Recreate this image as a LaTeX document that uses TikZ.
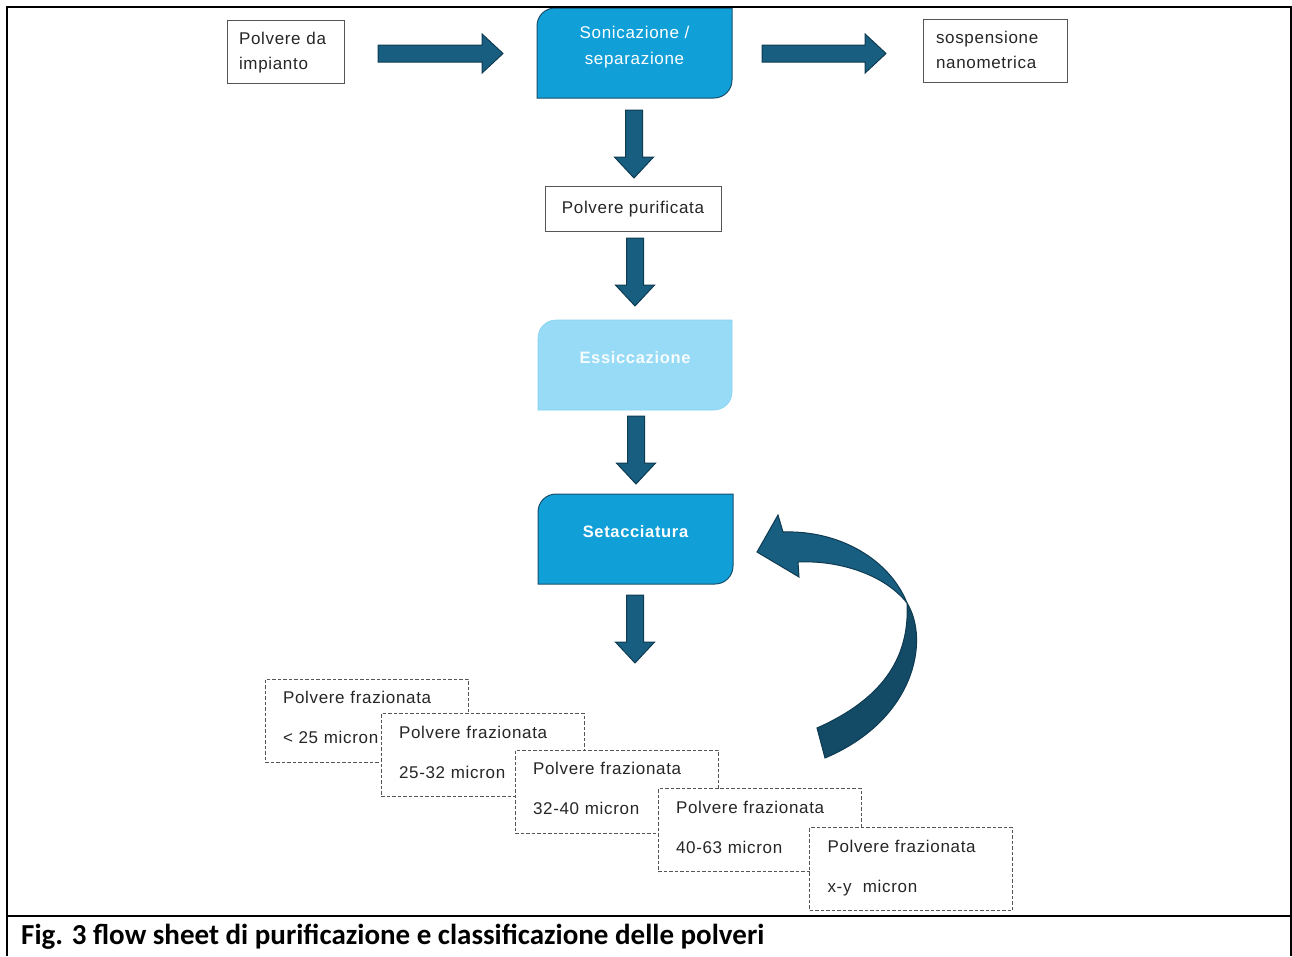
\documentclass[tikz,border=0pt]{standalone}
\usepackage{fontspec}
\setmainfont{Liberation Sans}
\newfontfamily\aptos[LetterSpace=4]{Liberation Sans}
\newfontfamily\capfont{Carlito}
\usetikzlibrary{shapes.arrows,calc,backgrounds}
\definecolor{procblue}{HTML}{119FD8}
\definecolor{procedge}{HTML}{17506E}
\definecolor{lightblue}{HTML}{98DBF7}
\definecolor{arrfill}{HTML}{185E80}
\definecolor{arredge}{HTML}{0F3B52}
\definecolor{arrdark}{HTML}{134A66}
\definecolor{boxedge}{HTML}{555555}
\definecolor{txtcol}{HTML}{262626}
\newcommand\diagshape[2]{%
  \begin{scope}[on background layer]
  \path[#2] (#1.south west)
    -- ($(#1.north west)+(0,18)$)
    .. controls ($(#1.north west)+(0,8)$) and ($(#1.north west)+(8,0)$) .. ($(#1.north west)+(18,0)$)
    -- (#1.north east)
    -- ($(#1.south east)+(0,-18)$)
    .. controls ($(#1.south east)+(0,-8)$) and ($(#1.south east)+(-8,0)$) .. ($(#1.south east)+(-18,0)$)
    -- cycle;
  \end{scope}}
\begin{document}
\begin{tikzpicture}[x=1pt,y=-1pt,
  txt/.style={font=\aptos\fontsize{17}{25}\selectfont, text=txtcol},
  plainbox/.style={txt, draw=boxedge, line width=0.9pt, fill=white, align=left, outer sep=0pt,
     inner xsep=12pt, text height=12pt, text depth=27pt, minimum height=63pt},
  purebox/.style={txt, draw=boxedge, line width=0.9pt, fill=white, align=center, outer sep=0pt,
     minimum width=176pt, minimum height=45pt, text height=12pt, text depth=2pt},
  fbox/.style={font=\aptos\fontsize{17}{40}\selectfont, text=txtcol, draw=boxedge, dash pattern=on 3.5pt off 2pt,
     line width=0.9pt, fill=white, outer sep=0pt, minimum width=203pt, minimum height=83pt,
     inner xsep=18pt, text width=167pt, align=left, text height=12pt, text depth=46pt},
  proc/.style={font=\aptos\fontsize{17}{26}\selectfont, text=white, align=center, outer sep=0pt,
     minimum height=90pt, inner sep=0pt},
  barrow/.style={single arrow, draw=arredge, fill=arrfill, line width=1pt, inner sep=8pt,
     single arrow head extend=11pt, single arrow tip angle=86, minimum width=38pt, outer sep=0pt, anchor=tail},
]
\useasboundingbox (0,0) rectangle (1292,956);
% frame
\draw[line width=2pt] (7,956) -- (7,7) -- (1291,7) -- (1291,956);
\draw[line width=2pt] (7,916) -- (1291,916);
% top row
\node[plainbox, text width=93pt] (pi) at (285.5,51.5) {Polvere da\\impianto};
\node[proc, minimum width=195pt, text width=195pt, text height=12pt, text depth=42pt] (son) at (634.5,53) {Sonicazione /\\separazione};
\diagshape{son}{fill=procblue, draw=procedge, line width=1pt}
\node[plainbox, inner xsep=13pt, text width=118pt] (sn) at (995,50.5) {sospensione\\nanometrica};
\node[barrow, minimum height=125pt] (h1) at (378,53.5) {};
\node[barrow, minimum height=124pt] (h2) at (762,53.5) {};
% column
\node[barrow, rotate=-90, minimum height=68pt] (v1) at (634,110) {};
\node[purebox] (pp) at (633,208.5) {Polvere purificata};
\node[barrow, rotate=-90, minimum height=68pt] (v2) at (635,238) {};
\node[proc, minimum width=194pt, text height=12pt, text depth=16pt, font=\aptos\bfseries\fontsize{16.5}{26}\selectfont, text=white!92!lightblue] (ess) at (635,365) {Essiccazione};
\diagshape{ess}{fill=lightblue, draw=lightblue!85!procblue, line width=0.6pt}
\node[barrow, rotate=-90, minimum height=68pt] (v3) at (636,416) {};
\node[proc, minimum width=195pt, text height=12pt, text depth=16pt, font=\aptos\bfseries\fontsize{16.5}{26}\selectfont] (set) at (635.5,539) {Setacciatura};
\diagshape{set}{fill=procblue, draw=procedge, line width=1pt}
\node[barrow, rotate=-90, minimum height=68pt] (v4) at (635,595) {};
% curved return arrow
\path[fill=arrdark, draw=arredge, line width=1pt]
  (817,728) .. controls (880,700) and (910,660) .. (907,603)
  .. controls (930,640) and (915,720) .. (825,758) -- cycle;
\path[fill=arrfill, draw=arredge, line width=1pt]
  (907,603) .. controls (890,560) and (840,530) .. (783,532) -- (778,515) -- (757,552) -- (799,577) -- (798,562)
  .. controls (840,560) and (885,575) .. (907,603) -- cycle;
% fraction boxes
\node[fbox] (f1) at (366.5,720.5) {Polvere frazionata\\< 25 micron};
\node[fbox] (f2) at (482.5,755) {Polvere frazionata\\25-32 micron};
\node[fbox] (f3) at (616.5,791.5) {Polvere frazionata\\32-40 micron};
\node[fbox] (f4) at (759.5,830) {Polvere frazionata\\40-63 micron};
\node[fbox] (f5) at (911,869) {Polvere frazionata\\x-y\ \ micron};
% caption
\node[anchor=west, inner sep=0pt, font=\capfont\bfseries\fontsize{29}{32}\selectfont] (cap) at (21,937) {Fig. 3 flow sheet di purificazione e classificazione delle polveri};
\end{tikzpicture}
\end{document}
